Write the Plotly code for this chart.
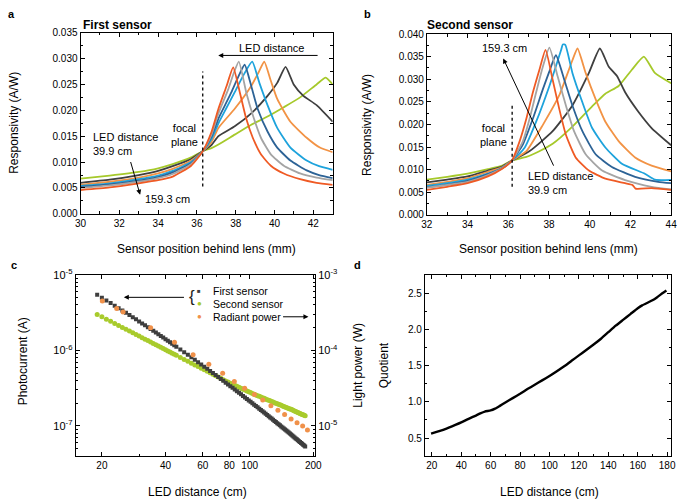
import math
import plotly.graph_objects as go

W, H = 685, 504
FONT = "Liberation Sans, Arial, sans-serif"

# ---------------- Panel a: first sensor responsivity (A/W) ----------------
a_green_x = [30, 31.5, 33, 34, 34.75, 35.7, 36.3, 36.75, 37.11, 37.95, 38.8, 39.64, 40.48, 41.32, 42.17, 42.64, 43]
a_green_y = [0.0068, 0.0074, 0.0081, 0.0088, 0.0096, 0.0109, 0.0121, 0.0127, 0.0134, 0.0153, 0.0172, 0.0188, 0.0206, 0.0225, 0.0250, 0.0263, 0.0250]
a_dgray_x = [30, 31.5, 33, 34, 34.75, 35.7, 36.3, 36.75, 37.11, 37.95, 38.8, 39.64, 40.14, 40.57, 40.99, 41.49, 42.17, 43]
a_dgray_y = [0.0060, 0.0066, 0.0075, 0.0083, 0.0092, 0.0106, 0.0121, 0.0133, 0.0150, 0.0169, 0.0194, 0.0228, 0.0253, 0.0284, 0.0250, 0.0228, 0.0210, 0.0178]
a_orange_x = [30, 31.5, 33, 34, 34.75, 35.7, 36.3, 36.75, 37.11, 37.95, 38.8, 39.2, 39.47, 39.81, 40.14, 40.82, 41.66, 42.34, 43]
a_orange_y = [0.0056, 0.0062, 0.0070, 0.0078, 0.0087, 0.0103, 0.0121, 0.0139, 0.0166, 0.0203, 0.0247, 0.0275, 0.0294, 0.0257, 0.0222, 0.0178, 0.0147, 0.0128, 0.0119]
a_lblue_x = [30, 31.5, 33, 34, 34.75, 35.7, 36.3, 36.75, 37.11, 37.5, 37.95, 38.4, 38.85, 39.22, 39.64, 40.14, 40.82, 41.66, 42.3, 43]
a_lblue_y = [0.0054, 0.0059, 0.0067, 0.0074, 0.0083, 0.0100, 0.0121, 0.0144, 0.0175, 0.0203, 0.0235, 0.0268, 0.0294, 0.0253, 0.0210, 0.0166, 0.0128, 0.0103, 0.0092, 0.0085]
a_dblue_x = [30, 31.5, 33, 34, 34.75, 35.7, 36.3, 36.75, 37.11, 37.45, 37.78, 38.1, 38.46, 38.8, 39.13, 39.64, 40.14, 40.82, 41.66, 42.3, 43]
a_dblue_y = [0.0052, 0.0057, 0.0064, 0.0071, 0.0080, 0.0098, 0.0121, 0.0149, 0.0184, 0.0210, 0.0235, 0.0262, 0.0288, 0.0247, 0.0203, 0.0159, 0.0128, 0.0103, 0.0084, 0.0075, 0.0069]
a_gray_x = [30, 31.5, 33, 34, 34.75, 35.7, 36.3, 36.75, 37.11, 37.62, 37.9, 38.16, 38.54, 38.88, 39.3, 39.81, 40.48, 41.32, 42.17, 43]
a_gray_y = [0.0050, 0.0055, 0.0062, 0.0069, 0.0077, 0.0096, 0.0121, 0.0153, 0.0194, 0.0241, 0.0272, 0.0294, 0.0235, 0.0191, 0.0147, 0.0115, 0.0093, 0.0078, 0.0070, 0.0065]
a_red_x = [30, 31.5, 33, 34, 34.75, 35.7, 36.3, 36.75, 37.11, 37.53, 37.87, 38.21, 38.54, 38.88, 39.3, 39.81, 40.48, 41.32, 42.17, 43]
a_red_y = [0.0046, 0.0051, 0.0059, 0.0065, 0.0072, 0.0093, 0.0121, 0.0158, 0.0203, 0.0247, 0.0283, 0.0235, 0.0184, 0.0147, 0.0115, 0.0093, 0.0078, 0.0067, 0.0060, 0.0056]
a_focal_x = [36.3, 36.3]
a_focal_y = [0.0053, 0.0275]

# ---------------- Panel b: second sensor responsivity (A/W) ----------------
b_green_x = [32, 33, 34, 35, 35.7, 36.18, 36.89, 37.5, 38.18, 39.15, 40.12, 40.77, 41.42, 42.07, 42.66, 43.2, 44]
b_green_y = [0.0078, 0.0084, 0.0091, 0.0101, 0.0109, 0.0120, 0.0128, 0.0140, 0.0157, 0.0195, 0.0240, 0.0268, 0.0285, 0.0321, 0.0350, 0.0314, 0.0291]
b_dgray_x = [32, 33, 34, 35, 35.7, 36.18, 37.05, 38.18, 39.15, 39.96, 40.5, 40.93, 41.34, 41.74, 42.39, 43.04, 44]
b_dgray_y = [0.0072, 0.0078, 0.0085, 0.0098, 0.0107, 0.0120, 0.0141, 0.0185, 0.0242, 0.0314, 0.0368, 0.0328, 0.0307, 0.0271, 0.0228, 0.0192, 0.0154]
b_orange_x = [32, 33, 34, 35, 35.7, 36.18, 36.89, 37.7, 38.5, 39.15, 39.4, 39.8, 40.29, 40.77, 41.42, 42.23, 43.04, 44]
b_orange_y = [0.0066, 0.0073, 0.0081, 0.0095, 0.0105, 0.0120, 0.0141, 0.0199, 0.0264, 0.0342, 0.0368, 0.0314, 0.0256, 0.0206, 0.0163, 0.0127, 0.0109, 0.0096]
b_lblue_x = [32, 33, 34, 35, 35.7, 36.18, 36.81, 37.37, 38.02, 38.59, 38.68, 38.8, 39.15, 39.64, 40.12, 40.77, 41.58, 42.71, 43.2, 44]
b_lblue_y = [0.0064, 0.0070, 0.0078, 0.0091, 0.0104, 0.0120, 0.0149, 0.0206, 0.0285, 0.0364, 0.0377, 0.0376, 0.0314, 0.0249, 0.0192, 0.0149, 0.0113, 0.0091, 0.0078, 0.0077]
b_dblue_x = [32, 33, 34, 35, 35.7, 36.18, 36.72, 37.21, 37.7, 38.0, 38.34, 38.75, 39.15, 39.64, 40.29, 41.09, 42.23, 43.36, 44]
b_dblue_y = [0.0061, 0.0067, 0.0075, 0.0090, 0.0103, 0.0120, 0.0156, 0.0213, 0.0278, 0.0315, 0.0353, 0.0299, 0.0242, 0.0185, 0.0134, 0.0106, 0.0084, 0.0073, 0.0070]
b_gray_x = [32, 33, 34, 35, 35.7, 36.18, 36.72, 37.05, 37.37, 37.7, 38.02, 38.42, 38.83, 39.23, 39.8, 40.61, 41.74, 43.04, 44]
b_gray_y = [0.0060, 0.0066, 0.0073, 0.0088, 0.0103, 0.0120, 0.0163, 0.0213, 0.0271, 0.0328, 0.0370, 0.0307, 0.0242, 0.0185, 0.0134, 0.0098, 0.0077, 0.0062, 0.0056]
b_red_x = [32, 33, 34, 35, 35.7, 36.18, 36.56, 36.89, 37.21, 37.53, 37.83, 38.18, 38.5, 38.83, 39.31, 39.96, 40.77, 41.74, 42.1, 42.25, 43.04, 44]
b_red_y = [0.0055, 0.0062, 0.0070, 0.0085, 0.0102, 0.0120, 0.0163, 0.0213, 0.0271, 0.0321, 0.0365, 0.0299, 0.0235, 0.0177, 0.0127, 0.0098, 0.0080, 0.0070, 0.0066, 0.0058, 0.0059, 0.0055]
b_focal_x = [36.19, 36.19]
b_focal_y = [0.0062, 0.0246]

# ---------------- Panel c: photocurrent (A) and radiant power (W) ----------------
sensor_distance_cm = [19, 20, 21, 22, 23, 24, 25, 26, 27, 28, 29, 30, 31, 32, 33, 34, 35, 36, 37, 38,
                      39, 40, 41, 42, 43, 44, 45, 47, 49, 51, 53, 55, 57, 59, 61, 63, 65, 67, 69, 71,
                      73, 75, 77, 79, 81, 83, 85, 87, 89, 91, 93, 95, 97, 99, 101, 103, 105, 107, 109, 111,
                      113, 115, 117, 119, 121, 123, 125, 127, 129, 131, 133, 135, 137, 139, 141, 143, 145, 147, 149, 151,
                      153, 155, 157, 159, 161, 163, 165, 167, 169, 171, 173, 175, 177, 179, 181, 183]
first_sensor_uA = [5.455, 4.995, 4.591, 4.233, 3.914, 3.631, 3.375, 3.146, 2.939, 2.751, 2.580, 2.424, 2.281, 2.151,
                   2.031, 1.920, 1.818, 1.724, 1.636, 1.555, 1.480, 1.410, 1.344, 1.283, 1.225, 1.171, 1.121,
                   1.029, 0.9476, 0.8750, 0.8100, 0.7517, 0.6994, 0.6520, 0.6090, 0.5699, 0.5341, 0.5017, 0.4718,
                   0.4445, 0.4193, 0.3961, 0.3746, 0.3548, 0.3363, 0.3192, 0.3034, 0.2886, 0.2748, 0.2618, 0.2498,
                   0.2385, 0.2278, 0.2179, 0.2085, 0.1997, 0.1914, 0.1835, 0.1762, 0.1692, 0.1626, 0.1564, 0.1505,
                   0.1449, 0.1396, 0.1345, 0.1297, 0.1251, 0.1207, 0.1165, 0.1126, 0.1088, 0.1052, 0.1018, 0.0985,
                   0.0954, 0.0924, 0.0895, 0.0868, 0.0841, 0.0816, 0.0792, 0.0769, 0.0746, 0.0725, 0.0704, 0.0684,
                   0.0665, 0.0647, 0.0629, 0.0612, 0.0596, 0.0580, 0.0565, 0.0550, 0.0536]
second_sensor_uA = [3.003, 2.788, 2.598, 2.428, 2.277, 2.140, 2.018, 1.906, 1.804, 1.712, 1.627, 1.549, 1.477, 1.410,
                    1.349, 1.291, 1.238, 1.189, 1.143, 1.099, 1.058, 1.020, 0.9847, 0.9508, 0.9188, 0.8888, 0.8603,
                    0.8075, 0.7603, 0.7175, 0.6786, 0.6432, 0.6105, 0.5808, 0.5534, 0.5280, 0.5047, 0.4831, 0.4629,
                    0.4441, 0.4266, 0.4102, 0.3950, 0.3814, 0.3687, 0.3567, 0.3453, 0.3346, 0.3244, 0.3148, 0.3060,
                    0.2981, 0.2905, 0.2833, 0.2764, 0.2698, 0.2636, 0.2575, 0.2518, 0.2464, 0.2414, 0.2366, 0.2318,
                    0.2273, 0.2230, 0.2188, 0.2148, 0.2109, 0.2072, 0.2035, 0.2000, 0.1966, 0.1934, 0.1902, 0.1872,
                    0.1842, 0.1814, 0.1786, 0.1759, 0.1733, 0.1707, 0.1682, 0.1658, 0.1632, 0.1606, 0.1581, 0.1556,
                    0.1532, 0.1509, 0.1486, 0.1465, 0.1443, 0.1422, 0.1402, 0.1383, 0.1364]
radiant_distance_cm = [20.1, 23.5, 25.2, 34.0, 44.1, 54.0, 64.1, 74.5, 84.6, 94.7, 105.3, 115.3, 126, 136,
                       146.3, 157, 167.5, 178, 187.6]
radiant_power_W = [4.53e-4, 3.6e-4, 3.23e-4, 1.99e-4, 1.28e-4, 8.75e-5, 6.56e-5, 4.98e-5, 3.89e-5, 3.16e-5,
                   2.61e-5, 2.21e-5, 1.85e-5, 1.61e-5, 1.42e-5, 1.24e-5, 1.10e-5, 1.0e-5, 8.8e-6]

# ---------------- Panel d: quotient ----------------
quotient_x = [19.5, 25, 30, 36, 40, 45, 50, 53, 56, 60, 63, 66, 70, 75, 80, 85, 90, 95, 100, 105, 110, 115,
              120, 125, 130, 135, 140, 145, 150, 155, 160, 163, 167, 170, 173, 177, 179.5]
quotient_y = [0.56, 0.595, 0.63, 0.68, 0.715, 0.765, 0.81, 0.84, 0.865, 0.88, 0.905, 0.94, 0.99, 1.05, 1.11,
              1.175, 1.235, 1.295, 1.355, 1.42, 1.49, 1.565, 1.64, 1.715, 1.79, 1.87, 1.96, 2.05, 2.13, 2.21,
              2.29, 2.33, 2.37, 2.40, 2.44, 2.50, 2.535]

# ---------------- styles ----------------
C_GREEN = "#a6c92b"
C_DGRAY = "#3f3f3f"
C_ORANGE = "#f29345"
C_LBLUE = "#1ea3dc"
C_DBLUE = "#2d6396"
C_GRAY = "#a4a4a4"
C_RED = "#ef5a24"

fig = go.Figure()

def add_line(x, y, color, xa, ya, width=1.8):
    fig.add_trace(go.Scatter(x=x, y=y, mode="lines", xaxis=xa, yaxis=ya,
                             line=dict(color=color, width=width, shape="spline", smoothing=0.5),
                             hoverinfo="skip"))

for (xs, ys, c) in [(a_green_x, a_green_y, C_GREEN), (a_dgray_x, a_dgray_y, C_DGRAY),
                    (a_orange_x, a_orange_y, C_ORANGE), (a_lblue_x, a_lblue_y, C_LBLUE),
                    (a_dblue_x, a_dblue_y, C_DBLUE), (a_gray_x, a_gray_y, C_GRAY),
                    (a_red_x, a_red_y, C_RED)]:
    add_line(xs, ys, c, "x", "y")
fig.add_trace(go.Scatter(x=a_focal_x, y=a_focal_y, mode="lines", xaxis="x", yaxis="y",
                         line=dict(color="black", width=1.3, dash="3px,3px")))

for (xs, ys, c) in [(b_green_x, b_green_y, C_GREEN), (b_dgray_x, b_dgray_y, C_DGRAY),
                    (b_orange_x, b_orange_y, C_ORANGE), (b_lblue_x, b_lblue_y, C_LBLUE),
                    (b_dblue_x, b_dblue_y, C_DBLUE), (b_gray_x, b_gray_y, C_GRAY),
                    (b_red_x, b_red_y, C_RED)]:
    add_line(xs, ys, c, "x2", "y2")
fig.add_trace(go.Scatter(x=b_focal_x, y=b_focal_y, mode="lines", xaxis="x2", yaxis="y2",
                         line=dict(color="black", width=1.3, dash="3px,3px")))

fig.add_trace(go.Scatter(x=sensor_distance_cm, y=[v * 1e-6 for v in second_sensor_uA], mode="markers",
                         xaxis="x3", yaxis="y3",
                         marker=dict(symbol="circle", size=5, color="#a8cb2c", line=dict(width=0))))
fig.add_trace(go.Scatter(x=sensor_distance_cm, y=[v * 1e-6 for v in first_sensor_uA], mode="markers",
                         xaxis="x3", yaxis="y3",
                         marker=dict(symbol="square", size=4, color="#3e3e3e", line=dict(width=0))))
fig.add_trace(go.Scatter(x=radiant_distance_cm, y=radiant_power_W, mode="markers",
                         xaxis="x3", yaxis="y5",
                         marker=dict(symbol="circle", size=5, color="#f0914a", line=dict(width=0))))

fig.add_trace(go.Scatter(x=quotient_x, y=quotient_y, mode="lines", xaxis="x4", yaxis="y4",
                         line=dict(color="black", width=2.4, shape="spline", smoothing=0.4)))

# ---------------- axes ----------------
def px_x(p):
    return p / W

def px_y(p):
    return 1 - p / H

def base_axis(**kw):
    d = dict(showline=True, linecolor="black", linewidth=1, mirror="ticks", ticks="inside",
             ticklen=4, tickwidth=1, tickcolor="black", showgrid=False, zeroline=False,
             tickfont=dict(size=10, color="black", family=FONT),
             minor=dict(ticks="inside", ticklen=2.5, tickcolor="black", showgrid=False))
    d.update(kw)
    return d

xa = base_axis(domain=[px_x(76), px_x(333)], anchor="y", range=[30, 43], tick0=30, dtick=2)
xa["minor"]["dtick"] = 1
ya = base_axis(domain=[px_y(211.3), px_y(25.3)], anchor="x", range=[0, 0.035], tick0=0, dtick=0.005,
               tickformat=".3f")
ya["minor"]["dtick"] = 0.0025

xb = base_axis(domain=[px_x(429), px_x(678)], anchor="y2", range=[32, 44], tick0=32, dtick=2)
xb["minor"]["dtick"] = 1
yb = base_axis(domain=[px_y(212.3), px_y(26.7)], anchor="x2", range=[0, 0.040], tick0=0, dtick=0.005,
               tickformat=".3f")
yb["minor"]["dtick"] = 0.0025

xc = base_axis(domain=[px_x(71), px_x(315)], anchor="y3", type="log", range=[1.177, 2.309],
               tickmode="array", tickvals=[20, 40, 60, 80, 100, 200],
               ticktext=["20", "40", "60", "80", "100", "200"])
xc["minor"].update(tickmode="array", tickvals=[30, 50, 70, 90])
yc = base_axis(domain=[px_y(460), px_y(274)], anchor="x3", type="log", range=[-7.4, -5], mirror=False,
               tickmode="array", tickvals=[1e-7, 1e-6, 1e-5],
               ticktext=["10<sup>-7</sup>", "10<sup>-6</sup>", "10<sup>-5</sup>"],
               tickfont=dict(size=11, color="black", family=FONT))
yc["minor"].update(tickmode="array", tickvals=[k * 10.0 ** e for e in (-8, -7, -6) for k in range(2, 10)])
yc_r = base_axis(domain=[px_y(460), px_y(274)], anchor="x3", overlaying="y3", side="right", type="log",
                 range=[-5.4, -3], mirror=False,
                 tickmode="array", tickvals=[1e-5, 1e-4, 1e-3],
                 ticktext=["10<sup>-5</sup>", "10<sup>-4</sup>", "10<sup>-3</sup>"],
                 tickfont=dict(size=11, color="black", family=FONT))
yc_r["minor"].update(tickmode="array", tickvals=[k * 10.0 ** e for e in (-6, -5, -4) for k in range(2, 10)])

xd = base_axis(domain=[px_x(427), px_x(678)], anchor="y4", range=[15.3, 182.7], tick0=20, dtick=20)
xd["minor"]["dtick"] = 10
yd = base_axis(domain=[px_y(460), px_y(274)], anchor="x4", range=[0.25, 2.75], tick0=0.5, dtick=0.5,
               tickformat=".1f")
yd["minor"].update(tick0=0.25, dtick=0.25)

# ---------------- annotations ----------------
ann = []

def ptext(text, px, py, size=12, angle=0, bold=False, xanchor="center", yanchor="middle", color="black"):
    t = "<b>%s</b>" % text if bold else text
    ann.append(dict(text=t, x=px_x(px), y=px_y(py), xref="paper", yref="paper", showarrow=False,
                    textangle=angle, xanchor=xanchor, yanchor=yanchor,
                    font=dict(size=size, color=color, family=FONT)))

def dtext(text, x, y, xr, yr, size=11, xanchor="center", align="center"):
    ann.append(dict(text=text, x=x, y=y, xref=xr, yref=yr, showarrow=False, xanchor=xanchor,
                    yanchor="middle", align=align, font=dict(size=size, color="black", family=FONT)))

def arrow(x, y, ax, ay, xr, yr):
    ann.append(dict(text="", x=x, y=y, ax=ax, ay=ay, xref=xr, yref=yr, axref=xr, ayref=yr,
                    showarrow=True, arrowhead=2, arrowsize=1, arrowwidth=1, arrowcolor="black"))

# panel labels and titles
ptext("a", 5.5, 6.5, size=11, bold=True)
ptext("b", 369, 6.5, size=11, bold=True)
ptext("c", 8, 264, size=11, bold=True)
ptext("d", 358, 264, size=11, bold=True)
ptext("First sensor", 76, 17, size=12, bold=True, xanchor="left")
ptext("Second sensor", 427, 17, size=12, bold=True, xanchor="left")

# axis titles
ptext("Responsivity (A/W)", 8, 118, angle=-90)
ptext("Sensor position behind lens (mm)", 204, 247)
ptext("Responsivity (A/W)", 368, 120, angle=-90)
ptext("Sensor position behind lens (mm)", 553, 247)
ptext("Photocurrent (A)", 17, 363, angle=-90)
ptext("LED distance (cm)", 195, 497)
ptext("Light power (W)", 358, 367, angle=-90)
ptext("Quotient", 385, 367, angle=-90)
ptext("LED distance (cm)", 554, 497)

# panel a texts / arrows
dtext("LED distance", 39.83, 0.0321, "x", "y")
arrow(37.1, 0.0306, 42.3, 0.0306, "x", "y")
dtext("focal<br>plane", 35.34, 0.0152, "x", "y")
dtext("LED distance<br>39.9 cm", 30.55, 0.01355, "x", "y", xanchor="left", align="left")
arrow(33.07, 0.0037, 32.56, 0.0103, "x", "y")
dtext("159.3 cm", 33.2, 0.0029, "x", "y", xanchor="left")

# panel b texts / arrows
dtext("159.3 cm", 35.79, 0.0368, "x2", "y2")
arrow(35.75, 0.0346, 38.26, 0.01055, "x2", "y2")
dtext("focal<br>plane", 35.27, 0.0177, "x2", "y2")
dtext("LED distance<br>39.9 cm", 36.85, 0.0070, "x2", "y2", xanchor="left", align="left")

# panel c legend (text) and arrows
ptext("\u25A0", 197, 290, size=6, color="#3e3e3e")
ptext("\u25CF", 197, 303.5, size=8, color="#a8cb2c")
ptext("\u25CF", 197, 317, size=8, color="#f0914a")
ptext("First sensor", 209, 290, size=10.5, xanchor="left")
ptext("Second sensor", 209, 303.5, size=10.5, xanchor="left")
ptext("Radiant power", 209, 317, size=10.5, xanchor="left")
ptext("{", 190, 296.5, size=17, color="#222222")
arrow(math.log10(25.4), math.log10(5.05e-6), math.log10(49.7), math.log10(5.05e-6), "x3", "y3")
arrow(math.log10(189.6), math.log10(2.79e-6), math.log10(141.5), math.log10(2.79e-6), "x3", "y3")

fig.update_layout(
    width=W, height=H, margin=dict(l=0, r=0, t=0, b=0),
    paper_bgcolor="white", plot_bgcolor="white", showlegend=False,
    font=dict(family=FONT, size=12, color="black"),
    xaxis=xa, yaxis=ya, xaxis2=xb, yaxis2=yb, xaxis3=xc, yaxis3=yc, yaxis5=yc_r,
    xaxis4=xd, yaxis4=yd,
    annotations=ann,
)

fig.write_html("out.html", config={"displayModeBar": False},
               post_script="document.body.style.margin='0';document.body.style.padding='0';")
